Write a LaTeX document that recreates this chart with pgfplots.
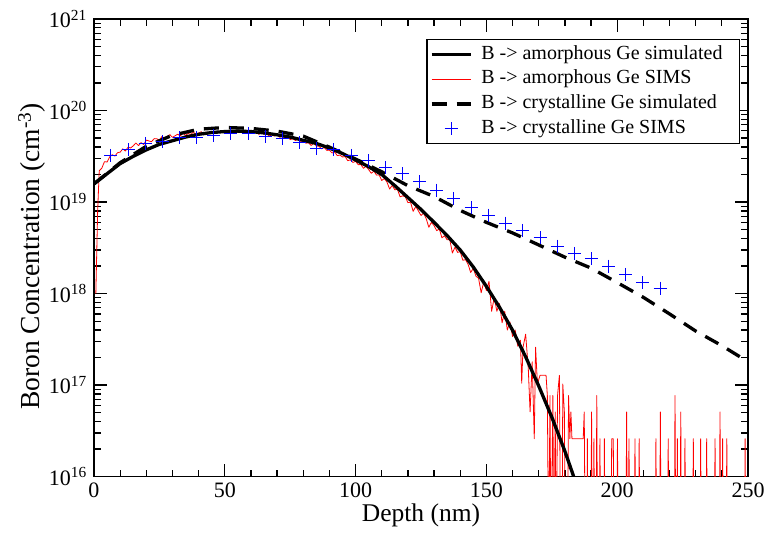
\documentclass[border=0pt]{standalone}
\usepackage{pgfplots}
\pgfplotsset{compat=1.18}
\usepackage{fontspec}
\setmainfont{Liberation Serif}
\pgfplotsset{
  leg/.style={legend image code/.code={\draw[##1] (0pt,0pt) -- (39pt,0pt);}},
  legm/.style={legend image code/.code={\draw[##1] plot coordinates {(19.5pt,0pt)};}},
}
\begin{document}
\begin{tikzpicture}
\useasboundingbox (-94pt,-56.3pt) rectangle (675pt,476.7pt);
\begin{axis}[
  scale only axis, width=654pt, height=457.7pt,
  xmin=0, xmax=250, ymin=1e16, ymax=1e21, ymode=log,
  xtick={0,50,100,150,200,250}, minor x tick num=4,
  xticklabel={\pgfmathprintnumber[assume math mode=true]{\tick}},
  ytick={1e16,1e17,1e18,1e19,1e20,1e21},
  yticklabels={10\textsuperscript{16},10\textsuperscript{17},10\textsuperscript{18},10\textsuperscript{19},10\textsuperscript{20},10\textsuperscript{21}},
  /pgf/number format/assume math mode=true,
  tick align=inside,
  major tick length=13pt, minor tick length=7pt,
  tick style={black, line width=1.3pt},
  minor tick style={black, line width=1.3pt},
  axis line style={line width=1.6pt},
  tick label style={font=\fontsize{22}{26}\selectfont},
  xticklabel style={inner sep=0pt, yshift=-6pt, anchor=north},
  yticklabel style={inner sep=0pt, xshift=-7pt, anchor=east},
  xlabel={Depth (nm)},
  ylabel={Boron Concentration (cm\textsuperscript{-3})},
  every axis x label/.style={at={(axis description cs:0.5,0)}, anchor=north, yshift=-27pt, inner sep=0pt, font=\fontsize{25.5}{30}\selectfont},
  every axis y label/.style={at={(axis description cs:0,0.481)}, xshift=-48pt, rotate=90, anchor=south, inner sep=0pt, font=\fontsize{27.5}{32}\selectfont},
  legend cell align=left,
  legend style={at={(rel axis cs:0.988,0.956)}, anchor=north east, draw=black, line width=1.2pt, fill=white,
    font=\fontsize{20}{24}\selectfont, inner xsep=3pt, inner ysep=2.5pt, row sep=0pt, column sep=0pt,
    nodes={inner xsep=5pt, inner ysep=2.85pt, text height=14pt, text depth=5pt}},
]
\addlegendimage{black, line width=3.3pt, leg}
\addlegendentry{\hspace*{4pt}B -> amorphous Ge simulated\hspace*{9pt}}
\addlegendimage{draw=red, color=red, line width=1.2pt, leg}
\addlegendentry{\hspace*{4pt}B -> amorphous Ge SIMS}
\addlegendimage{black, line width=3.3pt, dash pattern=on 15pt off 10pt, leg}
\addlegendentry{\hspace*{4pt}B -> crystalline Ge simulated\hspace*{9pt}}
\addlegendimage{blue, only marks, mark=+, mark size=6.5pt, line width=1pt, legm}
\addlegendentry{\hspace*{4pt}B -> crystalline Ge SIMS}

% amorphous Ge SIMS (red)
\addplot[red, line width=0.8pt, line join=round, forget plot] coordinates {
(0.7,1.0e18) (1.4,8.0e18) (2,2.2e19) (3,2.35e19) (4,2.76e19) (5,2.74e19) (6,3.12e19) (7,3.29e19) (8,3.18e19) (9,3.46e19)
(10,3.51e19) (11,3.81e19) (12,3.61e19) (13,3.97e19) (14,3.90e19) (15,4.11e19) (16,4.42e19) (17,4.14e19) (18,4.46e19) (19,4.25e19)
(20,4.75e19) (21,4.65e19) (22,4.57e19) (23,4.93e19) (24,4.91e19) (25,4.73e19) (26,5.21e19) (27,4.97e19) (28,5.23e19) (29,5.45e19)
(30,5.09e19) (31,5.30e19) (32,5.51e19) (33,5.28e19) (34,5.66e19) (35,5.34e19) (36,5.62e19) (37,5.47e19) (38,5.83e19) (39,5.40e19)
(40,5.68e19) (41,5.86e19) (42,5.42e19) (43,5.79e19) (44,5.59e19) (45,5.92e19) (46,5.59e19) (47,5.90e19) (48,5.80e19) (49,6.04e19)
(50,5.65e19) (51,5.94e19) (52,5.70e19) (53,5.99e19) (54,5.59e19) (55,5.88e19) (56,6.04e19) (57,5.68e19) (58,5.91e19) (59,5.54e19)
(60,5.81e19) (61,5.61e19) (62,5.86e19) (63,5.49e19) (64,5.74e19) (65,5.50e19) (66,5.68e19) (67,5.24e19) (68,5.46e19) (69,5.25e19)
(70,5.42e19) (71,5.09e19) (72,5.24e19) (73,5.03e19) (74,5.17e19) (75,4.81e19) (76,4.93e19) (77,4.70e19) (78,4.88e19) (79,4.51e19)
(80,4.67e19) (81,4.39e19) (82,4.45e19) (83,4.15e19) (84,4.39e19) (85,4.09e19) (86,4.08e19) (87,3.81e19) (88,3.95e19) (89,3.67e19)
(90,3.68e19) (91,3.44e19) (92,3.52e19) (93,3.22e19) (94,3.26e19) (95,3.11e19) (96,3.14e19) (97,2.83e19) (98,2.89e19) (99,2.71e19)
(100,2.79e19) (101,2.56e19) (102,2.57e19) (103,2.34e19) (104,2.46e19) (105,2.26e19) (106,2.06e19) (107,2.18e19) (108,1.97e19) (109,1.98e19)
(110,1.72e19) (111,1.81e19) (112,1.65e19) (113,1.39e19) (114,1.52e19) (115,1.36e19) (116,1.38e19) (117,1.14e19) (118,1.17e19) (119,1.14e19)
(120,9.86e18) (121,9.96e18) (122,7.92e18) (123,8.93e18) (124,8.01e18) (125,7.14e18) (126,7.57e18) (127,6.57e18) (128,5.30e18) (129,6.02e18)
(130,5.52e18) (131,4.87e18) (132,5.09e18) (133,4.07e18) (134,4.28e18) (135,3.87e18) (136,3.88e18) (137,2.78e18) (138,3.22e18) (139,2.82e18)
(140,2.87e18) (141,2.31e18) (142,2.35e18) (143,2.09e18) (144,1.70e18) (145,1.89e18) (146,1.55e18) (147,1.47e18) (148,1.02e18) (149,1.35e18)
(150,1.08e18) (151,1.36e18) (152,6.4e17) (153,9.1e17) (154,6.4e17) (155,7.8e17) (156,4.8e17) (157,6.4e17) (158,4.0e17) (159,4.9e17)
(160,3.4e17) (161,4.0e17) (162,2.66e17) (163,3.1e17) (163.5,1.05e17) (164,2.6e17) (165,3.6e17) (166,1.54e17) (166.7,5.1e16) (167.5,1.8e17)
(168.3,2.6e16) (168.8,2.6e17) (169.5,1.03e17) (170.5,1.28e17) (171,1.28e17) (172.8,1.28e17) (173.3,7.7e16) (173.8,1e15) (174.3,7.7e16) (174.7,1e15)
(175.4,7.7e16) (175.8,1e15) (176.3,5.1e16) (176.7,1e15) (177.2,7.7e16) (177.9,1.28e17) (178.4,1e15) (178.9,1e15) (179.2,1.03e17) (179.8,5.1e16)
(180.2,1e15) (181.0,1e15) (181.4,7.7e16) (181.9,2.6e16) (182.3,5.1e16) (182.7,2.6e16) (187.0,2.6e16) (187.4,5.1e16) (187.8,1e15)
(188.3,1e15) (188.6,2.6e16) (188.9,1e15) (189.9,1e15) (190.2,5.1e16) (190.5,1e15) (190.8,1e15) (191.1,2.6e16) (191.4,1e15)
(191.9,1e15) (192.2,7.7e16) (192.5,1e15) (193.1,1e15) (193.4,2.6e16) (193.7,1e15) (194.8,1e15) (195.1,2.6e16) (195.4,1e15)
(197.6,1e15) (197.9,2.6e16) (198.5,2.6e16) (198.8,1e15) (199.8,1e15) (200.1,2.6e16) (200.4,1e15)
(203.3,1e15) (203.6,5.1e16) (203.9,1e15) (204.2,1e15) (204.5,2.6e16) (204.8,1e15) (206.5,1e15) (206.8,2.6e16) (207.1,1e15)
(208.1,1e15) (208.4,2.6e16) (208.7,1e15) (214.5,1e15) (214.8,2.6e16) (215.1,1e15) (216.2,1e15) (216.5,5.1e16) (216.8,1e15)
(219.2,1e15) (219.5,2.6e16) (219.8,1e15) (221.8,1e15) (222.1,7.7e16) (222.4,1e15) (222.7,1e15) (223.0,2.6e16) (223.3,1e15)
(224.0,1e15) (224.3,5.1e16) (224.6,1e15) (225.6,1e15) (225.9,2.6e16) (226.2,1e15) (228.8,1e15) (229.1,2.6e16) (229.4,1e15)
(231.6,1e15) (231.9,2.6e16) (232.2,1e15) (233.9,1e15) (234.2,2.6e16) (234.5,1e15) (237.1,1e15) (237.4,2.6e16) (237.7,1e15)
(239.0,1e15) (239.3,5.1e16) (239.6,1e15) (240.0,1e15) (240.3,2.6e16) (240.6,1e15) (241.6,1e15) (241.9,2.6e16) (242.2,1e15)
(248.6,1e15) (248.9,2.6e16) (249.2,1e15)
};

% amorphous Ge simulated (black solid)
\addplot[black, line width=3.3pt, forget plot] coordinates {
(0,1.58e19) (5,2.04e19) (10,2.63e19) (15,3.16e19) (20,3.72e19) (25,4.27e19) (30,4.68e19) (35,5.13e19) (40,5.50e19) (45,5.75e19)
(50,5.89e19) (55,5.96e19) (60,5.89e19) (65,5.69e19) (70,5.43e19) (75,5.13e19) (80,4.73e19) (85,4.37e19) (90,3.89e19) (95,3.39e19)
(100,2.88e19) (105,2.43e19) (110,2.00e19) (115,1.51e19) (120,1.12e19) (125,8.3e18) (130,6.0e18) (135,4.3e18) (140,2.99e18) (145,1.95e18)
(150,1.20e18) (155,7.1e17) (160,3.98e17) (165,2.04e17) (170,9.8e16) (175,4.47e16) (180,1.9e16) (184,8.9e15)
};

% crystalline Ge simulated (black dashed)
\addplot[black, line width=3.3pt, dash pattern=on 15pt off 10pt, forget plot] coordinates {
(0,1.58e19) (10,2.69e19) (20,4.07e19) (30,5.37e19) (40,6.24e19) (50,6.53e19) (60,6.38e19) (70,5.96e19) (80,5.25e19) (90,3.98e19)
(100,2.95e19) (110,2.14e19) (120,1.51e19) (130,1.15e19) (140,8.1e18) (150,6.0e18) (160,4.6e18) (170,3.4e18) (180,2.5e18) (190,1.9e18)
(200,1.32e18) (210,9.1e17) (220,6.0e17) (230,3.9e17) (240,2.7e17) (250,1.8e17)
};

% crystalline Ge SIMS (blue +)
\addplot[blue, only marks, mark=+, mark size=6.5pt, line width=1pt, forget plot] coordinates {
(6.4,3.24e19) (13.0,3.72e19) (19.5,4.37e19) (26.1,4.57e19) (32.7,5.01e19) (39.2,5.13e19) (45.8,5.37e19) (52.3,5.62e19) (58.9,5.62e19)
(65.5,5.25e19) (72.0,4.90e19) (78.6,4.47e19) (85.2,3.89e19) (91.7,3.72e19) (98.3,3.24e19) (104.8,2.82e19) (111.4,2.40e19)
(118.0,2.04e19) (124.5,1.66e19) (131.1,1.35e19) (137.6,1.10e19) (144.2,8.7e18) (150.8,7.2e18) (157.3,5.9e18) (163.9,4.9e18)
(170.5,4.07e18) (177.0,3.31e18) (183.6,2.75e18) (190.1,2.40e18) (196.7,2.0e18) (203.3,1.62e18) (209.8,1.32e18) (216.4,1.15e18)
};
\end{axis}
\end{tikzpicture}
\end{document}
